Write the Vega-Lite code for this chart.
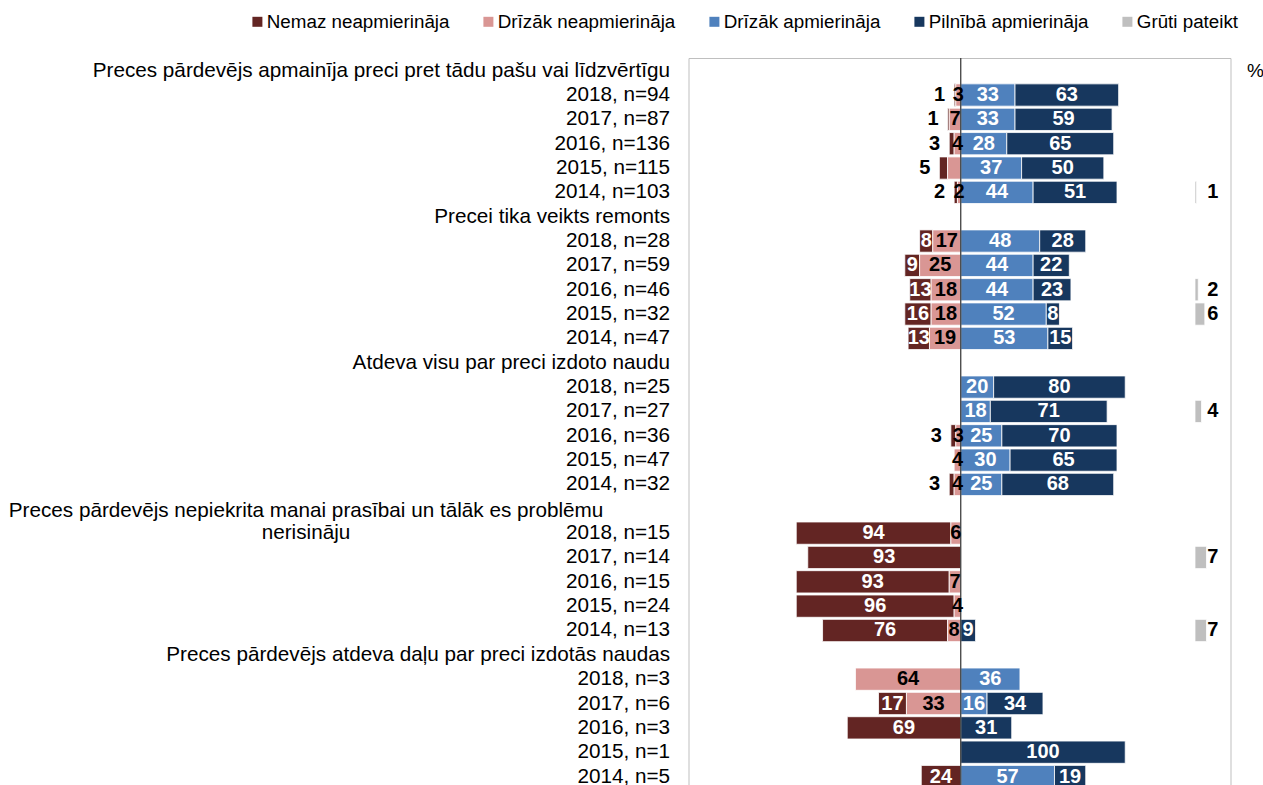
{
  "$schema": "https://vega.github.io/schema/vega-lite/v6.json",
  "width": 542,
  "height": 727,
  "autosize": {"type": "none"},
  "padding": {"left": 688.5, "top": 58, "right": 32.5, "bottom": 0},
  "config": {
    "font": "Liberation Sans",
    "view": {"stroke": "#BFBFBF", "strokeWidth": 1}
  },
  "data": {
    "values": [
      {"row": "2018, n=94", "cat": "Nemaz neapmierināja", "v": 1},
      {"row": "2018, n=94", "cat": "Drīzāk neapmierināja", "v": 3},
      {"row": "2018, n=94", "cat": "Drīzāk apmierināja", "v": 33},
      {"row": "2018, n=94", "cat": "Pilnībā apmierināja", "v": 63},
      {"row": "2017, n=87", "cat": "Nemaz neapmierināja", "v": 1},
      {"row": "2017, n=87", "cat": "Drīzāk neapmierināja", "v": 7},
      {"row": "2017, n=87", "cat": "Drīzāk apmierināja", "v": 33},
      {"row": "2017, n=87", "cat": "Pilnībā apmierināja", "v": 59},
      {"row": "2016, n=136", "cat": "Nemaz neapmierināja", "v": 3},
      {"row": "2016, n=136", "cat": "Drīzāk neapmierināja", "v": 4},
      {"row": "2016, n=136", "cat": "Drīzāk apmierināja", "v": 28},
      {"row": "2016, n=136", "cat": "Pilnībā apmierināja", "v": 65},
      {"row": "2015, n=115", "cat": "Nemaz neapmierināja", "v": 5},
      {"row": "2015, n=115", "cat": "Drīzāk neapmierināja", "v": 8, "nolabel": true},
      {"row": "2015, n=115", "cat": "Drīzāk apmierināja", "v": 37},
      {"row": "2015, n=115", "cat": "Pilnībā apmierināja", "v": 50},
      {"row": "2014, n=103", "cat": "Nemaz neapmierināja", "v": 2},
      {"row": "2014, n=103", "cat": "Drīzāk neapmierināja", "v": 2},
      {"row": "2014, n=103", "cat": "Drīzāk apmierināja", "v": 44},
      {"row": "2014, n=103", "cat": "Pilnībā apmierināja", "v": 51},
      {"row": "2014, n=103", "cat": "Grūti pateikt", "v": 1},
      {"row": "2018, n=28", "cat": "Nemaz neapmierināja", "v": 8},
      {"row": "2018, n=28", "cat": "Drīzāk neapmierināja", "v": 17},
      {"row": "2018, n=28", "cat": "Drīzāk apmierināja", "v": 48},
      {"row": "2018, n=28", "cat": "Pilnībā apmierināja", "v": 28},
      {"row": "2017, n=59", "cat": "Nemaz neapmierināja", "v": 9},
      {"row": "2017, n=59", "cat": "Drīzāk neapmierināja", "v": 25},
      {"row": "2017, n=59", "cat": "Drīzāk apmierināja", "v": 44},
      {"row": "2017, n=59", "cat": "Pilnībā apmierināja", "v": 22},
      {"row": "2016, n=46", "cat": "Nemaz neapmierināja", "v": 13},
      {"row": "2016, n=46", "cat": "Drīzāk neapmierināja", "v": 18},
      {"row": "2016, n=46", "cat": "Drīzāk apmierināja", "v": 44},
      {"row": "2016, n=46", "cat": "Pilnībā apmierināja", "v": 23},
      {"row": "2016, n=46", "cat": "Grūti pateikt", "v": 2},
      {"row": "2015, n=32", "cat": "Nemaz neapmierināja", "v": 16},
      {"row": "2015, n=32", "cat": "Drīzāk neapmierināja", "v": 18},
      {"row": "2015, n=32", "cat": "Drīzāk apmierināja", "v": 52},
      {"row": "2015, n=32", "cat": "Pilnībā apmierināja", "v": 8},
      {"row": "2015, n=32", "cat": "Grūti pateikt", "v": 6},
      {"row": "2014, n=47", "cat": "Nemaz neapmierināja", "v": 13},
      {"row": "2014, n=47", "cat": "Drīzāk neapmierināja", "v": 19},
      {"row": "2014, n=47", "cat": "Drīzāk apmierināja", "v": 53},
      {"row": "2014, n=47", "cat": "Pilnībā apmierināja", "v": 15},
      {"row": "2018, n=25", "cat": "Drīzāk apmierināja", "v": 20},
      {"row": "2018, n=25", "cat": "Pilnībā apmierināja", "v": 80},
      {"row": "2017, n=27", "cat": "Drīzāk apmierināja", "v": 18},
      {"row": "2017, n=27", "cat": "Pilnībā apmierināja", "v": 71},
      {"row": "2017, n=27", "cat": "Grūti pateikt", "v": 4},
      {"row": "2016, n=36", "cat": "Nemaz neapmierināja", "v": 3},
      {"row": "2016, n=36", "cat": "Drīzāk neapmierināja", "v": 3},
      {"row": "2016, n=36", "cat": "Drīzāk apmierināja", "v": 25},
      {"row": "2016, n=36", "cat": "Pilnībā apmierināja", "v": 70},
      {"row": "2015, n=47", "cat": "Drīzāk neapmierināja", "v": 4},
      {"row": "2015, n=47", "cat": "Drīzāk apmierināja", "v": 30},
      {"row": "2015, n=47", "cat": "Pilnībā apmierināja", "v": 65},
      {"row": "2014, n=32", "cat": "Nemaz neapmierināja", "v": 3},
      {"row": "2014, n=32", "cat": "Drīzāk neapmierināja", "v": 4},
      {"row": "2014, n=32", "cat": "Drīzāk apmierināja", "v": 25},
      {"row": "2014, n=32", "cat": "Pilnībā apmierināja", "v": 68},
      {"row": "2018, n=15", "cat": "Nemaz neapmierināja", "v": 94},
      {"row": "2018, n=15", "cat": "Drīzāk neapmierināja", "v": 6},
      {"row": "2017, n=14", "cat": "Nemaz neapmierināja", "v": 93},
      {"row": "2017, n=14", "cat": "Grūti pateikt", "v": 7},
      {"row": "2016, n=15", "cat": "Nemaz neapmierināja", "v": 93},
      {"row": "2016, n=15", "cat": "Drīzāk neapmierināja", "v": 7},
      {"row": "2015, n=24", "cat": "Nemaz neapmierināja", "v": 96},
      {"row": "2015, n=24", "cat": "Drīzāk neapmierināja", "v": 4},
      {"row": "2014, n=13", "cat": "Nemaz neapmierināja", "v": 76},
      {"row": "2014, n=13", "cat": "Drīzāk neapmierināja", "v": 8},
      {"row": "2014, n=13", "cat": "Pilnībā apmierināja", "v": 9},
      {"row": "2014, n=13", "cat": "Grūti pateikt", "v": 7},
      {"row": "2018, n=3", "cat": "Drīzāk neapmierināja", "v": 64},
      {"row": "2018, n=3", "cat": "Drīzāk apmierināja", "v": 36},
      {"row": "2017, n=6", "cat": "Nemaz neapmierināja", "v": 17},
      {"row": "2017, n=6", "cat": "Drīzāk neapmierināja", "v": 33},
      {"row": "2017, n=6", "cat": "Drīzāk apmierināja", "v": 16},
      {"row": "2017, n=6", "cat": "Pilnībā apmierināja", "v": 34},
      {"row": "2016, n=3", "cat": "Nemaz neapmierināja", "v": 69},
      {"row": "2016, n=3", "cat": "Pilnībā apmierināja", "v": 31},
      {"row": "2015, n=1", "cat": "Pilnībā apmierināja", "v": 100},
      {"row": "2014, n=5", "cat": "Nemaz neapmierināja", "v": 24},
      {"row": "2014, n=5", "cat": "Drīzāk apmierināja", "v": 57},
      {"row": "2014, n=5", "cat": "Pilnībā apmierināja", "v": 19}
    ]
  },
  "layer": [
    {
      "transform": [
        {"filter": "datum.cat != 'Grūti pateikt'"},
        {"calculate": "(datum.cat == 'Nemaz neapmierināja' || datum.cat == 'Drīzāk neapmierināja') ? -datum.v : datum.v", "as": "signed"},
        {"calculate": "indexof(['Drīzāk neapmierināja','Nemaz neapmierināja','Drīzāk apmierināja','Pilnībā apmierināja'], datum.cat)", "as": "so"},
        {"stack": "signed", "groupby": ["row"], "sort": [{"field": "so", "order": "ascending"}], "as": ["x0", "x1"]},
        {"calculate": "(datum.x0 + datum.x1) / 2", "as": "mid"}
      ],
      "layer": [
        {
          "mark": {"type": "bar", "stroke": "#FFFFFF", "strokeWidth": 0.8},
          "encoding": {
            "y": {
              "field": "row", "type": "nominal",
              "scale": {
                "domain": ["Preces pārdevējs apmainīja preci pret tādu pašu vai līdzvērtīgu", "2018, n=94", "2017, n=87", "2016, n=136", "2015, n=115", "2014, n=103", "Precei tika veikts remonts", "2018, n=28", "2017, n=59", "2016, n=46", "2015, n=32", "2014, n=47", "Atdeva visu par preci izdoto naudu", "2018, n=25", "2017, n=27", "2016, n=36", "2015, n=47", "2014, n=32", "Preces pārdevējs nepiekrita manai prasībai un tālāk es problēmu nerisināju", "2018, n=15", "2017, n=14", "2016, n=15", "2015, n=24", "2014, n=13", "Preces pārdevējs atdeva daļu par preci izdotās naudas", "2018, n=3", "2017, n=6", "2016, n=3", "2015, n=1", "2014, n=5"],
                "range": [0.5, 730.7], "paddingInner": 0.085, "paddingOuter": 0.0425
              },
              "axis": {
                "title": null, "domain": false, "ticks": false, "tickSize": 0, "grid": false,
                "labelFontSize": 20.7, "labelColor": "#000000", "labelLimit": 0, "labelLineHeight": 22, "labelOverlap": false,
                "labelPadding": {"condition": {"test": "datum.value == 'Preces pārdevējs nepiekrita manai prasībai un tālāk es problēmu nerisināju'", "value": 383}, "value": 19},
                "labelAlign": {"condition": {"test": "datum.value == 'Preces pārdevējs nepiekrita manai prasībai un tālāk es problēmu nerisināju'", "value": "center"}, "value": "right"},
                "labelOffset": {"condition": {"test": "datum.value == 'Preces pārdevējs nepiekrita manai prasībai un tālāk es problēmu nerisināju'", "value": 2}, "value": 0},
                "labelExpr": "datum.value == 'Preces pārdevējs nepiekrita manai prasībai un tālāk es problēmu nerisināju' ? ['Preces pārdevējs nepiekrita manai prasībai un tālāk es problēmu', 'nerisināju'] : datum.value"
              }
            },
            "x": {
              "field": "x0", "type": "quantitative",
              "scale": {"domain": [-165.5, 164], "nice": false, "zero": false},
              "axis": {"orient": "top", "title": "%", "labels": false, "ticks": false, "domain": false, "grid": false, "titleX": 566.5, "titleY": 12.5, "titleAlign": "center", "titleBaseline": "middle", "titleAngle": 0, "titleFontSize": 19, "titleFontWeight": "normal", "titleColor": "#000000"}
            },
            "x2": {"field": "x1"},
            "color": {
              "field": "cat", "type": "nominal",
              "scale": {"domain": ["Nemaz neapmierināja", "Drīzāk neapmierināja", "Drīzāk apmierināja", "Pilnībā apmierināja", "Grūti pateikt"], "range": ["#632523", "#D99694", "#4F81BD", "#17375E", "#BFBFBF"]},
              "legend": {"title": null, "orient": "none", "legendX": -440.5, "legendY": -46, "direction": "horizontal", "symbolType": "square", "symbolSize": 100, "symbolStrokeWidth": 0, "labelFontSize": 18.8, "labelColor": "#000000", "labelOffset": 0, "columnPadding": 29, "padding": 0, "labelLimit": 0}
            }
          }
        },
        {
          "data": {"values": [{}]},
          "mark": {"type": "rule", "color": "#404040", "strokeWidth": 1.3},
          "encoding": {"x": {"datum": 0, "type": "quantitative"}}
        },
        {
          "transform": [{"filter": "!datum.nolabel && !(datum.cat == 'Nemaz neapmierināja' && datum.v < 6)"}],
          "mark": {"type": "text", "fontSize": 20, "fontWeight": "bold", "align": "center", "baseline": "middle"},
          "encoding": {
            "y": {"field": "row", "type": "nominal"},
            "x": {"field": "mid", "type": "quantitative"},
            "text": {"field": "v", "type": "quantitative"},
            "color": {"condition": {"test": "datum.cat == 'Drīzāk neapmierināja'", "value": "#000000"}, "value": "#FFFFFF"}
          }
        },
        {
          "transform": [{"filter": "datum.cat == 'Nemaz neapmierināja' && datum.v < 6"}],
          "mark": {"type": "text", "fontSize": 20, "fontWeight": "bold", "align": "right", "baseline": "middle", "dx": -9, "color": "#000000"},
          "encoding": {
            "y": {"field": "row", "type": "nominal"},
            "x": {"field": "x1", "type": "quantitative"},
            "text": {"field": "v", "type": "quantitative"}
          }
        }
      ]
    },
    {
      "transform": [{"filter": "datum.cat == 'Grūti pateikt'"}],
      "layer": [
        {
          "mark": {"type": "bar", "stroke": "#FFFFFF", "strokeWidth": 0.8},
          "encoding": {
            "y": {"field": "row", "type": "nominal"},
            "x": {"field": "v", "type": "quantitative", "scale": {"domain": [-307.9, 21.6], "nice": false}, "axis": null},
            "color": {
              "field": "cat", "type": "nominal",
              "scale": {"domain": ["Nemaz neapmierināja", "Drīzāk neapmierināja", "Drīzāk apmierināja", "Pilnībā apmierināja", "Grūti pateikt"], "range": ["#632523", "#D99694", "#4F81BD", "#17375E", "#BFBFBF"]},
              "legend": {"title": null, "orient": "none", "legendX": -440.5, "legendY": -46, "direction": "horizontal", "symbolType": "square", "symbolSize": 100, "symbolStrokeWidth": 0, "labelFontSize": 18.8, "labelColor": "#000000", "labelOffset": 0, "columnPadding": 29, "padding": 0, "labelLimit": 0}
            }
          }
        },
        {
          "mark": {"type": "text", "fontSize": 20, "fontWeight": "bold", "align": "left", "baseline": "middle", "color": "#000000"},
          "encoding": {
            "y": {"field": "row", "type": "nominal"},
            "x": {"datum": 7.5, "type": "quantitative", "axis": null},
            "text": {"field": "v", "type": "quantitative"}
          }
        }
      ]
    }
  ],
  "resolve": {"scale": {"x": "independent"}, "axis": {"x": "independent"}}
}
